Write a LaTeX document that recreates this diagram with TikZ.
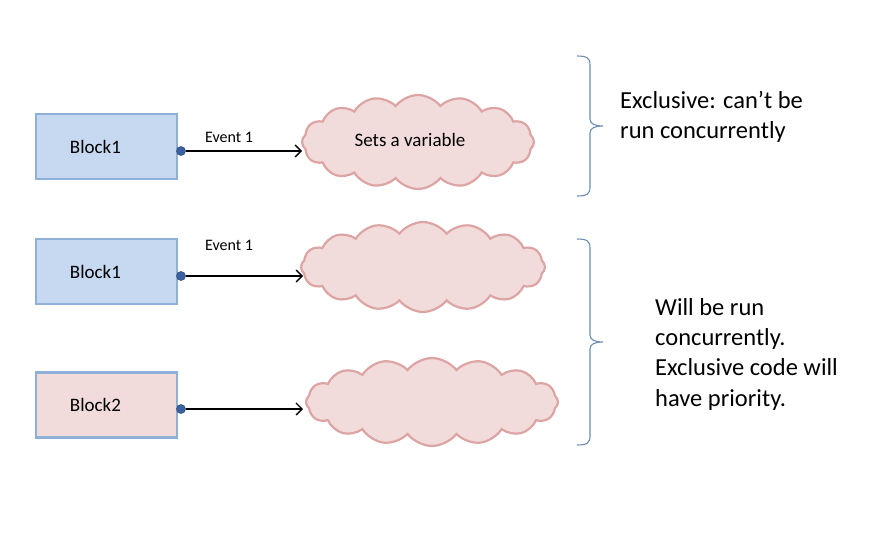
\documentclass[tikz,border=0pt]{standalone}
\usepackage{fontspec}
\setmainfont{Carlito}
\usetikzlibrary{shapes.symbols,arrows.meta}
\definecolor{blkblue}{HTML}{C6D9F1}
\definecolor{blkborder}{HTML}{8FB0D8}
\definecolor{pinkfill}{HTML}{F2DCDB}
\definecolor{cloudborder}{HTML}{DDA4A4}
\definecolor{dotblue}{HTML}{3B62A0}
\definecolor{bracecol}{HTML}{6A8CB5}
\begin{document}
\begin{tikzpicture}[x=1pt,y=-1pt,
  block/.style={draw=blkborder,line width=2.4pt,minimum width=141pt,minimum height=65pt,inner sep=0pt,font=\fontsize{19}{22}\selectfont},
  dotnode/.style={circle,fill=dotblue,draw=dotblue!70!black,line width=0.5pt,minimum size=9pt,inner sep=0pt},
  evcloud/.style={cloud,cloud puffs=16,cloud puff arc=105,aspect=2.5,draw=cloudborder,fill=pinkfill,line width=2.2pt,inner sep=0pt,font=\fontsize{19}{22}\selectfont},
  conn/.style={line width=1.3pt,-{Straight Barb[length=6pt,width=12pt]}},
  lab/.style={font=\fontsize{16}{18}\selectfont},
  bigtext/.style={align=left,anchor=north west,inner sep=0pt,font=\fontsize{24.5}{30.3}\selectfont},
  mybrace/.style={draw=bracecol,line width=1.1pt}
]
\useasboundingbox (0,0) rectangle (877,546);
% blocks
\node[block,fill=blkblue] (b1) at (106.5,146.5) {\hspace*{-22pt}Block1};
\node[block,fill=blkblue] (b2) at (106.5,271.5) {\hspace*{-22pt}Block1};
\node[block,fill=pinkfill] (b3) at (106.5,405) {\hspace*{-22pt}Block2};
% clouds
\node[evcloud,minimum width=232pt,minimum height=94pt] (c1) at (418,142) {\hspace*{-16pt}\raisebox{4pt}{Sets a variable}};
\node[evcloud,minimum width=244pt,minimum height=90pt] (c2) at (423,267) {};
\node[evcloud,minimum width=252pt,minimum height=88pt] (c3) at (432,402) {};
% dots
\node[dotnode] (d1) at (181,151) {};
\node[dotnode] (d2) at (181,276) {};
\node[dotnode] (d3) at (181,409) {};
\coordinate (t1) at (302,151);
\coordinate (t2) at (303,276);
\coordinate (t3) at (303,409);
\draw[conn] (d1.east) -- (t1);
\draw[conn] (d2.east) -- (t2);
\draw[conn] (d3.east) -- (t3);
\node[lab] (ev1) at (229,137) {Event 1};
\node[lab] (ev2) at (229,245) {Event 1};
% braces
\draw[mybrace] (577,56) .. controls (587,56) and (590,58) .. (590,65) -- (590,119)
  .. controls (590,124) and (595,126) .. (603,126)
  .. controls (595,126) and (590,128) .. (590,133) -- (590,187)
  .. controls (590,194) and (587,196) .. (577,196);
\draw[mybrace] (577,239) .. controls (587,239) and (590,241) .. (590,248) -- (590,335)
  .. controls (590,340) and (595,342) .. (603,342)
  .. controls (595,342) and (590,344) .. (590,349) -- (590,436)
  .. controls (590,443) and (587,445) .. (577,445);
% texts
\node[bigtext] (tx1) at (620,91) {Exclusive: can’t be\\run concurrently};
\node[bigtext] (tx2) at (655,298) {Will be run\\concurrently.\\Exclusive code will\\have priority.};
\end{tikzpicture}
\end{document}
